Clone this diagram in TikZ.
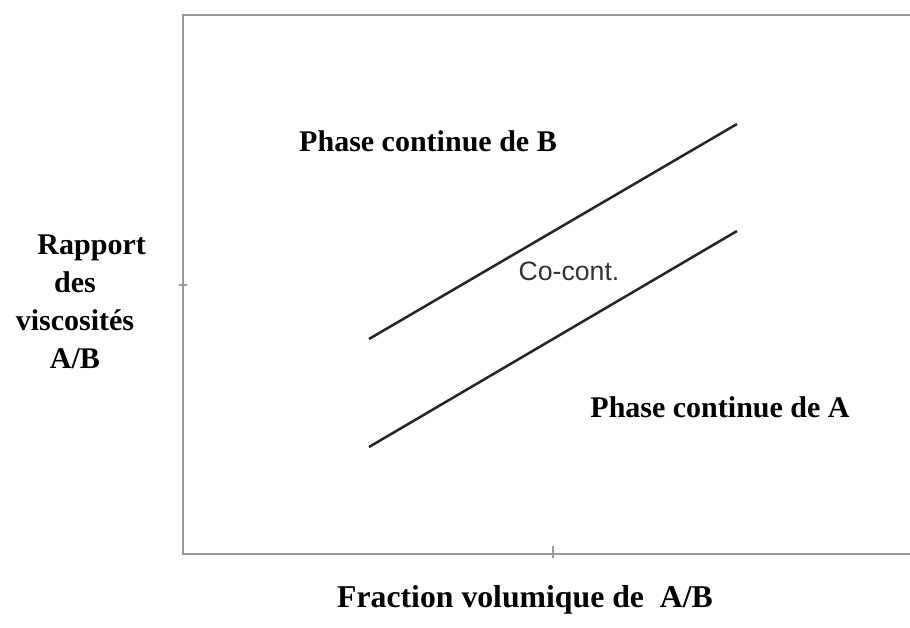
\documentclass[tikz,border=0pt]{standalone}
\usepackage{fontspec}
\setmainfont{Liberation Serif}
\newfontfamily\cocontfont{Liberation Sans}
\tikzset{
  regionlabel/.style={font=\fontsize{22.5}{28.5}\selectfont\bfseries, inner sep=0pt},
  frameline/.style={draw=black!40, line width=1.5pt},
  limitline/.style={draw=black!85, line width=1.9pt}
}
\begin{document}
\begin{tikzpicture}[x=0.75pt, y=-0.75pt]
\useasboundingbox (0,0) rectangle (910,628);
% frame, open on the right
\draw[frameline] (912,15) -- (183,15) -- (183,554) -- (912,554);
\draw[draw=black!40, line width=0.8pt] (179,285) -- (187,285);
\draw[draw=black!40, line width=0.8pt] (553,546) -- (553,558);
% limits of the co-continuous zone
\coordinate (up1) at (369,339);
\coordinate (up2) at (737,124);
\coordinate (lo1) at (369,447);
\coordinate (lo2) at (737,231);
\draw[limitline] (up1) -- (up2);
\draw[limitline] (lo1) -- (lo2);
\node[regionlabel] (phaseB) at (428,141) {Phase continue de B};
\node[regionlabel] (phaseA) at (720,407) {Phase continue de A};
\node[font=\cocontfont\fontsize{20}{23}\selectfont, text=black!80, inner sep=0pt] (cocont) at (569,271) {Co-cont.};
\node[regionlabel, align=center] (yaxis) at (75,302) {\hspace*{25pt}Rapport\\des\\viscosités\\A/B};
\node[regionlabel, font=\fontsize{23.8}{28.5}\selectfont\bfseries] (xaxis) at (525,600) {Fraction volumique de~~A/B};
\end{tikzpicture}
\end{document}
